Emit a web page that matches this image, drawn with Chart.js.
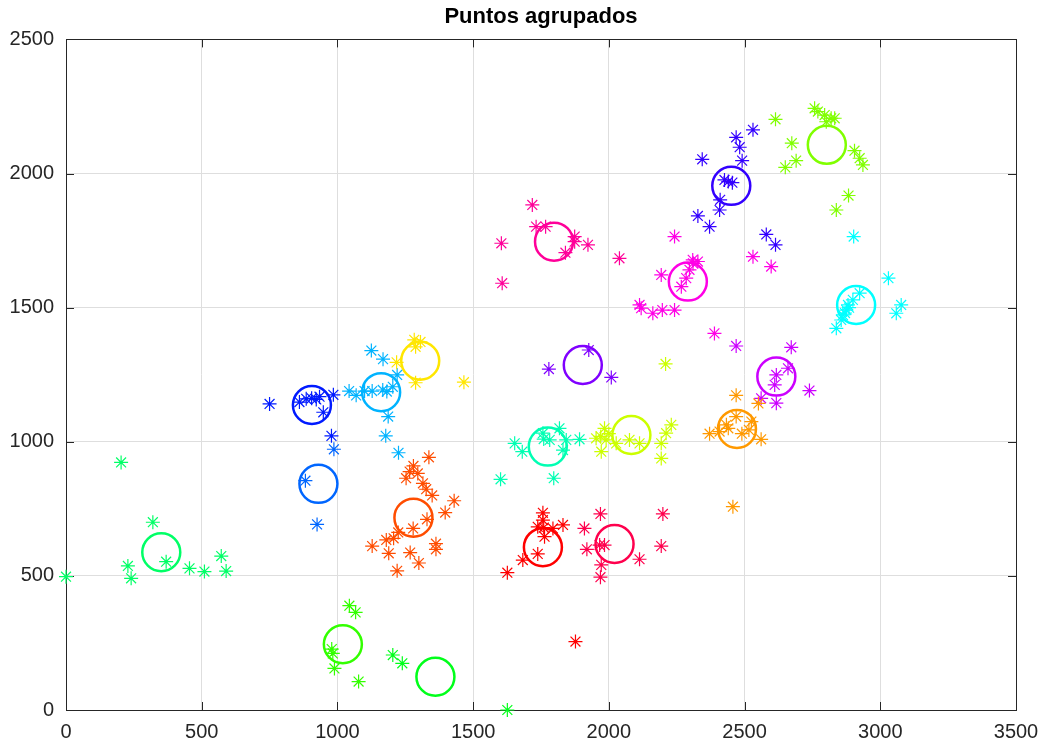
<!DOCTYPE html>
<html>
<head>
  <style>
    body {
        margin: 0;
        background: #ffffff;
    }
    canvas {
        display: block;
    }
  </style>
</head>
<body>
  <canvas id="myChart" width="1043" height="748"></canvas>

  <script src="https://cdn.jsdelivr.net/npm/chart.js"></script>

  <script type="text/javascript">
    // points of each group: [x, y]
    const grpRed = [[1626,512],[1683,559],[1738,582],[1757,735],[1757,708],[1738,683],[1760,680],[1763,646],[1794,677],[1831,690],[1877,255]];
    const grpOrangeRed = [[1337,942],[1280,910],[1266,889],[1296,882],[1253,864],[1315,845],[1327,823],[1349,800],[1430,780],[1397,736],[1330,711],[1279,677],[1224,662],[1207,640],[1180,634],[1128,611],[1189,584],[1268,587],[1363,620],[1363,599],[1300,548],[1220,519]];
    const grpOrange = [[2469,1173],[2371,1030],[2408,1038],[2433,1063],[2469,1094],[2525,1075],[2516,1044],[2561,1009],[2551,1143],[2457,758],[2440,1050],[2490,1030]];
    const grpYellow = [[1283,1380],[1306,1372],[1288,1354],[1218,1296],[1288,1220],[1466,1222]];
    const grpLime = [[1953,1013],[1984,1050],[1990,1007],[1972,963],[2027,994],[2076,1007],[2113,994],[2193,994],[2193,938],[2230,1063],[2211,1032],[2209,1290],[1970,1020],[2000,1030]];
    const grpChartreuse = [[2758,2243],[2770,2231],[2795,2218],[2819,2206],[2801,2193],[2832,2206],[2614,2202],[2674,2113],[2690,2048],[2650,2023],[2905,2085],[2924,2057],[2936,2032],[2883,1918],[2838,1864]];
    const grpGreen1 = [[1044,389],[1067,364],[979,227],[983,211],[989,155],[1078,106]];
    const grpGreen2 = [[1204,205],[1239,174],[1626,0]];
    const grpSpring = [[0,497],[203,923],[320,700],[228,537],[240,491],[369,553],[455,528],[510,516],[572,574],[590,518]];
    const grpAqua = [[1653,994],[1681,963],[1601,860],[1757,1032],[1782,1007],[1818,1050],[1843,1007],[1831,969],[1892,1009],[1797,864],[1760,1010]];
    const grpCyan = [[3030,1610],[2924,1554],[2899,1529],[2881,1510],[2875,1491],[2862,1473],[2856,1454],[2838,1423],[3077,1510],[3059,1479],[2902,1765],[2870,1480],[2885,1500]];
    const grpSky = [[1125,1340],[1168,1308],[1043,1189],[1069,1173],[1100,1189],[1128,1189],[1167,1193],[1182,1187],[1204,1205],[1220,1249],[1187,1094],[1178,1022],[1225,959]];
    const grpAzure = [[882,855],[925,692],[987,972]];
    const grpBlue = [[750,1141],[860,1148],[885,1160],[905,1162],[922,1158],[934,1168],[948,1110],[985,1175],[978,1022]];
    const grpIndigo = [[2531,2163],[2469,2135],[2482,2098],[2491,2048],[2344,2053],[2426,1976],[2440,1970],[2455,1966],[2410,1902],[2408,1864],[2328,1842],[2371,1802],[2580,1773],[2614,1734]];
    const grpViolet = [[1779,1271],[1926,1342],[2009,1240]];
    const grpPurple = [[2672,1352],[2660,1274],[2617,1249],[2611,1212],[2561,1162],[2617,1144],[2739,1191],[2469,1357]];
    const grpMagenta = [[2242,1765],[2193,1622],[2309,1678],[2328,1672],[2297,1641],[2285,1610],[2267,1578],[2113,1510],[2119,1498],[2162,1479],[2197,1491],[2242,1491],[2389,1404],[2531,1690],[2598,1653],[2310,1665]];
    const grpPink = [[1718,1883],[1732,1802],[1767,1802],[1874,1765],[1874,1746],[1923,1734],[1840,1705],[1604,1740],[1607,1591],[2039,1684]];
    const grpRose = [[1969,731],[1910,677],[1919,599],[1966,615],[1984,615],[1972,541],[1969,495],[2113,562],[2199,731],[2193,611]];

    // group centres (circles), same order as the groups
    const centX = [1757, 1280, 2472, 1305, 2083, 2803, 1020, 1361, 351, 1775, 2911, 1161, 930, 906, 2451, 1904, 2617, 2291, 1798, 2021];
    const centY = [607, 717, 1048, 1302, 1025, 2107, 245, 124, 588, 982, 1510, 1185, 843, 1137, 1954, 1286, 1243, 1597, 1746, 619];

    const xTicks = [0, 500, 1000, 1500, 2000, 2500, 3000, 3500];
    const yTicks = [0, 500, 1000, 1500, 2000, 2500];

    const groups = [grpRed, grpOrangeRed, grpOrange, grpYellow, grpLime, grpChartreuse, grpGreen1, grpGreen2,
                    grpSpring, grpAqua, grpCyan, grpSky, grpAzure, grpBlue, grpIndigo, grpViolet, grpPurple,
                    grpMagenta, grpPink, grpRose];

    // hsv(20) colour map
    const colors = [
        "rgb(255,0,0)", "rgb(255,77,0)", "rgb(255,153,0)", "rgb(255,230,0)", "rgb(204,255,0)",
        "rgb(128,255,0)", "rgb(51,255,0)", "rgb(0,255,26)", "rgb(0,255,102)", "rgb(0,255,179)",
        "rgb(0,255,255)", "rgb(0,179,255)", "rgb(0,102,255)", "rgb(0,26,255)", "rgb(51,0,255)",
        "rgb(128,0,255)", "rgb(204,0,255)", "rgb(255,0,230)", "rgb(255,0,153)", "rgb(255,0,77)"
    ];

    const fontFamily = "'Liberation Sans', Arial, Helvetica, sans-serif";
    const axisColor = "#262626";

    // box round the axes with inward tick marks
    const axesBox = {
        id: 'axesBox',
        beforeDatasetsDraw(chart) {
            const ctx = chart.ctx;
            const a = chart.chartArea;
            const xs = chart.scales.x;
            const ys = chart.scales.y;
            const len = 8;
            ctx.save();
            ctx.strokeStyle = axisColor;
            ctx.lineWidth = 1;
            ctx.beginPath();
            xTicks.forEach(v => {
                const px = Math.round(xs.getPixelForValue(v)) + 0.5;
                ctx.moveTo(px, a.bottom);
                ctx.lineTo(px, a.bottom - len);
                ctx.moveTo(px, a.top);
                ctx.lineTo(px, a.top + len);
            });
            yTicks.forEach(v => {
                const py = Math.round(ys.getPixelForValue(v)) + 0.5;
                ctx.moveTo(a.left, py);
                ctx.lineTo(a.left + len, py);
                ctx.moveTo(a.right, py);
                ctx.lineTo(a.right - len, py);
            });
            ctx.stroke();
            ctx.strokeRect(Math.round(a.left) + 0.5, Math.round(a.top) + 0.5,
                           Math.round(a.width), Math.round(a.height));
            ctx.restore();
        }
    };

    const datasets = groups.map((g, i) => ({
        label: 'grupo ' + (i + 1),
        data: g.map(p => ({ x: p[0], y: p[1] })),
        pointStyle: 'star',
        pointRadius: 7,
        borderWidth: 1.2,
        borderColor: colors[i],
        backgroundColor: colors[i],
        clip: false
    }));

    datasets.push({
        label: 'centros',
        data: centX.map((x, i) => ({ x: x, y: centY[i] })),
        pointStyle: 'circle',
        pointRadius: 19,
        borderWidth: 2.5,
        borderColor: colors,
        backgroundColor: 'rgba(0,0,0,0)',
        clip: false
    });

    const ctx = document.getElementById('myChart');

    new Chart(ctx, {
        type: 'scatter',
        data: { datasets: datasets },
        options: {
            responsive: false,
            animation: false,
            devicePixelRatio: 1,
            layout: {
                padding: { left: 0, right: 27, top: 0, bottom: 0 }
            },
            elements: {
                point: { hoverRadius: 7 }
            },
            plugins: {
                legend: { display: false },
                tooltip: { enabled: false },
                title: {
                    display: true,
                    fullSize: false,
                    text: 'Puntos agrupados',
                    color: '#000000',
                    font: { family: fontFamily, size: 22, weight: 'bold' },
                    padding: { top: 4, bottom: 9 }
                }
            },
            scales: {
                x: {
                    type: 'linear',
                    min: 0,
                    max: 3500,
                    afterBuildTicks: s => { s.ticks = xTicks.map(v => ({ value: v })); },
                    afterFit: s => {
                        s.height = 38;
                        s.paddingLeft = 0;
                        s.paddingRight = 0;
                    },
                    ticks: {
                        color: axisColor,
                        font: { family: fontFamily, size: 20 },
                        padding: 10,
                        maxRotation: 0,
                        callback: v => String(v)
                    },
                    grid: { color: '#dedede', drawTicks: false },
                    border: { display: false }
                },
                y: {
                    type: 'linear',
                    min: 0,
                    max: 2500,
                    afterBuildTicks: s => { s.ticks = yTicks.map(v => ({ value: v })); },
                    afterFit: s => {
                        s.width = 66;
                        s.paddingTop = 0;
                        s.paddingBottom = 0;
                    },
                    ticks: {
                        color: axisColor,
                        font: { family: fontFamily, size: 20 },
                        padding: 12,
                        callback: v => String(v)
                    },
                    grid: { color: '#dedede', drawTicks: false },
                    border: { display: false }
                }
            }
        },
        plugins: [axesBox]
    });
  </script>
</body>
</html>
